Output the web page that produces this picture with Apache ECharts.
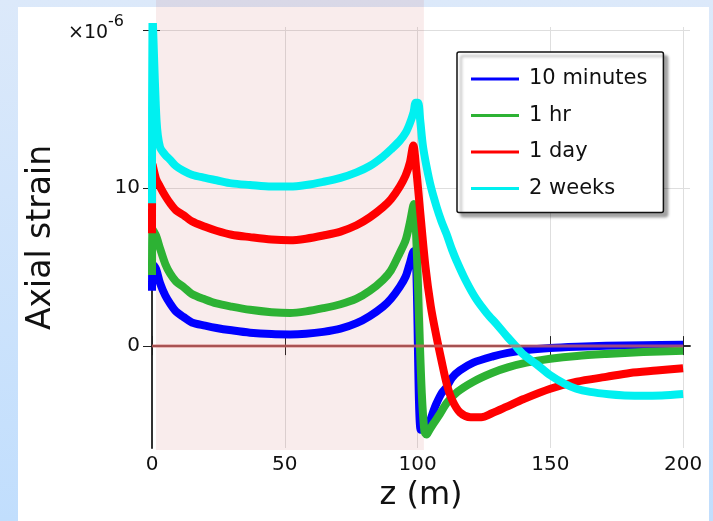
<!DOCTYPE html>
<html>
<head>
<meta charset="utf-8">
<script src="https://cdn.jsdelivr.net/npm/echarts@6/dist/echarts.min.js"></script>
<style>
html, body { margin: 0; padding: 0; }
#chart { width: 713px; height: 521px; }
</style>
</head>
<body>
<div id="chart"></div>
<script>
// data: [z (m), axial strain x1e-6]
var seriesNames = ['10 minutes', '1 hr', '1 day', '2 weeks'];

var min10 = [[0, 3.5], [0.2, 5.2], [1.5, 4.9], [3, 4.0], [5, 3.2], [6.8, 2.7], [9, 2.2], [11.8, 1.85], [15, 1.5], [20, 1.3],
    [24.3, 1.15], [30, 1.0], [36.9, 0.85], [45, 0.76], [52, 0.74], [58, 0.78], [64.5, 0.9], [71, 1.1], [77, 1.45], [82, 1.9],
    [87, 2.5], [90, 3.0], [93.3, 3.75], [95.5, 4.4], [97.1, 5.25], [98.6, 6.0], [99.4, 5.6], [101.2, -5.3], [102.5, -5.3],
    [103.8, -5.0], [105, -4.6], [106, -4.1], [107.2, -3.6], [109, -3.0], [110.9, -2.6], [113, -2.0], [115.9, -1.55],
    [121, -1.05], [128.4, -0.65], [134, -0.43], [141, -0.25], [150, -0.12], [160, -0.04], [171, 0.02], [185, 0.06], [200, 0.08]];

var hr1 = [[0, 4.5], [0.2, 7.4], [1.5, 7.0], [3, 6.2], [5, 5.2], [6.8, 4.6], [9, 4.1], [11.8, 3.75], [15, 3.3], [20, 2.95],
    [24.3, 2.7], [30, 2.5], [36.9, 2.3], [45, 2.15], [52, 2.1], [58, 2.2], [64.5, 2.4], [71, 2.65], [77, 3.0], [82, 3.5],
    [87, 4.2], [90, 4.8], [93.3, 5.9], [95.5, 6.7], [97.1, 7.8], [98.6, 9.0], [99.6, 6.5], [100.6, 1.5], [101.6, -3],
    [102.6, -5.4], [103.4, -5.6], [104.5, -5.3], [106, -4.9], [108.4, -4.3], [111, -3.6], [115, -2.9], [121, -2.25],
    [128, -1.7], [134, -1.35], [141, -1.05], [150, -0.8], [160, -0.62], [171, -0.5], [185, -0.38], [200, -0.3]];

var day1 = [[0, 7.15], [0.2, 11.5], [1.5, 10.6], [3, 10.1], [5, 9.5], [6.8, 9.05], [9, 8.6], [11.8, 8.3], [15, 7.9], [20, 7.55],
    [24.3, 7.3], [30, 7.05], [36.9, 6.9], [45, 6.75], [52, 6.7], [58, 6.8], [64.5, 7.0], [71, 7.25], [77, 7.65], [82, 8.15],
    [87, 8.8], [90, 9.3], [93.3, 10.1], [95.5, 10.8], [97.1, 11.6], [98.4, 12.7], [99.5, 11.2], [101, 8.5], [103, 5.0],
    [105, 2.5], [107, 0.7], [109, -0.9], [111, -2.4], [113, -3.4], [116, -4.2], [120, -4.5], [124, -4.5], [128, -4.25],
    [133.4, -3.85], [140, -3.35], [150, -2.7], [160, -2.25], [171, -1.95], [180, -1.7], [190, -1.55], [200, -1.4]];

var weeks2 = [[0, 9.05], [0.2, 21], [1.7, 14.3], [3, 12.6], [5, 12.1], [6.8, 11.8], [9, 11.4], [11.8, 11.1], [15, 10.85],
    [20, 10.65], [24.3, 10.5], [30, 10.3], [36.9, 10.2], [45, 10.1], [52, 10.1], [58, 10.2], [64.5, 10.4], [71, 10.65],
    [77, 11.0], [82, 11.4], [87, 12.0], [90, 12.45], [93.3, 13.0], [95.5, 13.5], [97.1, 14.1], [98.5, 14.8], [99.3, 15.4],
    [100.2, 15.4], [101, 14.3], [102, 12.7], [103.4, 11.35], [105, 10.1], [107.2, 8.8], [109, 7.9], [110.9, 7.1], [113, 6.1],
    [114.7, 5.4], [118, 4.2], [122, 3.0], [126, 2.1], [130, 1.35], [133.5, 0.65], [137, 0], [140, -0.55], [144.8, -1.15],
    [150, -1.85], [155, -2.35], [159.8, -2.7], [165, -2.9], [172, -3.05], [178, -3.12], [185, -3.15], [192, -3.12], [200, -3.03]];

var zeroLine = [[0, 0], [200, 0]];
var pinkZone = [1.5, 102.4];

var xTicks = [0, 50, 100, 150, 200];
var yTicks = [0, 10, 20];
var yLabels = [0, 10];
var xRange = [0, 202.6];
var yRange = [-6.45, 20.2];

var font = 'DejaVu Sans';

function lineSeries(name, data, color) {
    return {
        name: name,
        type: 'line',
        data: data,
        symbol: 'none',
        smooth: 0.3,
        xAxisIndex: 0,
        yAxisIndex: 0,
        lineStyle: { color: color, width: 8, join: 'round' },
        itemStyle: { color: color },
        z: 3
    };
}

var chart = echarts.init(document.getElementById('chart'));

var option = {
    animation: false,
    backgroundColor: {
        type: 'linear', x: 0, y: 0, x2: 0, y2: 1,
        colorStops: [{ offset: 0, color: '#dce9fa' }, { offset: 1, color: '#c1defd' }]
    },
    graphic: [
        { type: 'rect', left: 18, top: 7, shape: { width: 691, height: 514 }, style: { fill: '#ffffff' }, z: -10 },
        { type: 'text', left: 68, top: 24, style: { text: '×10', font: '19px "DejaVu Sans"', fill: '#111' } },
        { type: 'text', left: 108, top: 14, style: { text: '-6', font: '16px "DejaVu Sans"', fill: '#111' } }
    ],
    grid: [
        { left: 152, right: 23, top: 27, bottom: 73 },
        { left: 152, right: 23, top: 0, bottom: 71 }
    ],
    legend: {
        data: seriesNames,
        orient: 'vertical',
        left: 457,
        top: 52,
        padding: [16, 16, 13, 14],
        icon: 'rect',
        itemWidth: 48,
        itemHeight: 3,
        itemGap: 14.5,
        backgroundColor: '#fff',
        borderColor: '#111',
        borderWidth: 1.5,
        borderRadius: 2,
        shadowColor: 'rgba(0,0,0,0.35)',
        shadowBlur: 3,
        shadowOffsetX: 4,
        shadowOffsetY: 4,
        textStyle: { fontFamily: font, fontSize: 21, color: '#111', lineHeight: 22, padding: [0, 0, 0, 5] }
    },
    xAxis: [
        {
            type: 'value', gridIndex: 0, min: xRange[0], max: xRange[1], position: 'bottom',
            name: 'z (m)', nameLocation: 'middle', nameGap: 30,
            nameTextStyle: { fontFamily: font, fontSize: 32, color: '#111' },
            axisLine: { lineStyle: { color: '#222', width: 1.5 } },
            axisTick: { inside: true, length: 10, customValues: xTicks, lineStyle: { color: '#222' } },
            axisLabel: { customValues: xTicks, margin: 7, fontFamily: font, fontSize: 20, color: '#111' },
            splitLine: { show: true, lineStyle: { color: '#dedede', width: 1 } }
        },
        {
            type: 'value', gridIndex: 0, min: xRange[0], max: xRange[1], position: 'top',
            axisLine: { show: true, lineStyle: { color: '#222', width: 1.5 } },
            axisTick: { inside: true, length: 9, customValues: xTicks, lineStyle: { color: '#222' } },
            axisLabel: { show: false },
            splitLine: { show: false }
        },
        { type: 'value', gridIndex: 1, min: xRange[0], max: xRange[1], show: false }
    ],
    yAxis: [
        {
            type: 'value', gridIndex: 0, min: yRange[0], max: yRange[1], position: 'left',
            name: 'Axial strain', nameLocation: 'middle', nameGap: 94,
            nameTextStyle: { fontFamily: font, fontSize: 33, color: '#111' },
            axisLine: { show: true, lineStyle: { color: '#666', width: 2 } },
            axisTick: { inside: true, length: 8, customValues: yTicks, lineStyle: { color: '#222' } },
            axisLabel: { customValues: yLabels, margin: 12, fontFamily: font, fontSize: 20, color: '#111' },
            splitLine: { show: true, lineStyle: { color: '#dedede', width: 1 } }
        },
        {
            type: 'value', gridIndex: 0, min: yRange[0], max: yRange[1], position: 'right',
            axisLine: { show: true, lineStyle: { color: '#222', width: 1.5 } },
            axisTick: { inside: true, length: 9, customValues: yTicks, lineStyle: { color: '#222' } },
            axisLabel: { show: false },
            splitLine: { show: false }
        },
        { type: 'value', gridIndex: 1, min: 0, max: 1, show: false }
    ],
    series: [
        {
            name: 'zone',
            type: 'line',
            xAxisIndex: 2,
            yAxisIndex: 2,
            data: [[pinkZone[0], 0], [pinkZone[1], 0]],
            symbol: 'none',
            lineStyle: { opacity: 0 },
            silent: true,
            z: 0,
            markArea: {
                silent: true,
                itemStyle: { color: 'rgba(195,65,65,0.1)' },
                data: [[{ xAxis: pinkZone[0] }, { xAxis: pinkZone[1] }]]
            }
        },
        lineSeries(seriesNames[0], min10, '#0000ff'),
        lineSeries(seriesNames[1], hr1, '#2db234'),
        lineSeries(seriesNames[2], day1, '#ff0000'),
        lineSeries(seriesNames[3], weeks2, '#00f0f0'),
        {
            name: 'zero',
            type: 'line',
            data: zeroLine,
            symbol: 'none',
            silent: true,
            lineStyle: { color: 'rgba(205,95,95,0.75)', width: 3 },
            z: 5
        }
    ]
};

chart.setOption(option);
</script>
</body>
</html>
